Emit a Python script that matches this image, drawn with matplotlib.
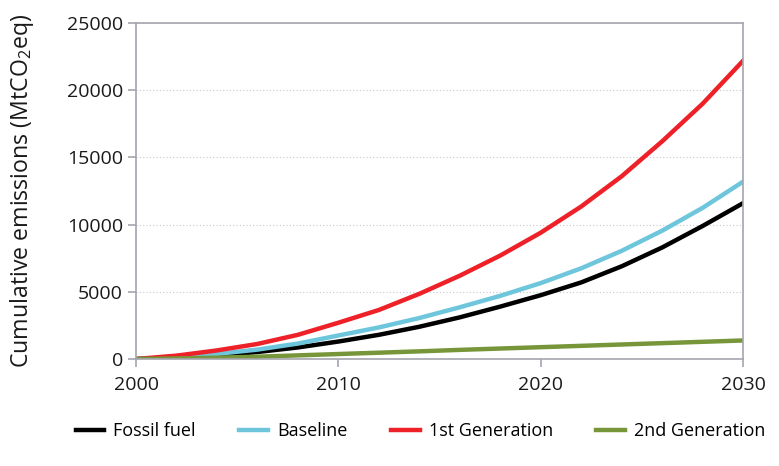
import matplotlib
matplotlib.use("Agg")
import matplotlib.pyplot as plt

plt.rcParams.update({
    "font.family": ["Open Sans", "DejaVu Sans"],
    "font.size": 14,
    "mathtext.default": "regular",
})

years = [2000, 2002, 2004, 2006, 2008, 2010, 2012, 2014, 2016, 2018,
         2020, 2022, 2024, 2026, 2028, 2030]
fossil_fuel = [0, 60, 260, 520, 860, 1300, 1800, 2400, 3100, 3900,
               4750, 5700, 6900, 8300, 9900, 11600]
baseline = [0, 130, 380, 700, 1150, 1750, 2350, 3050, 3850, 4700,
            5650, 6750, 8050, 9550, 11250, 13200]
first_gen = [0, 250, 640, 1120, 1800, 2700, 3650, 4850, 6200, 7700,
             9400, 11350, 13600, 16200, 19000, 22200]
second_gen = [0, 40, 100, 170, 270, 370, 470, 570, 680, 780,
              880, 980, 1080, 1180, 1280, 1380]

series = [
    ("Fossil fuel", fossil_fuel, "#000000"),
    ("Baseline", baseline, "#6ec6dc"),
    ("1st Generation", first_gen, "#ee2028"),
    ("2nd Generation", second_gen, "#77963a"),
]

fig = plt.figure(figsize=(7.79, 4.66), dpi=100)
ax = fig.add_axes([0.1746, 0.2296, 0.7794, 0.7210])

for name, vals, col in series:
    ax.plot(years, vals, color=col, lw=3.2, label=name, solid_joinstyle="round")

ax.set_xlim(2000, 2030)
ax.set_ylim(0, 25000)
ax.set_xticks([2000, 2010, 2020, 2030])
ax.set_yticks([0, 5000, 10000, 15000, 20000, 25000])
ax.yaxis.grid(True, linestyle=(0, (1, 2)), color="#c8c8c8", lw=0.8)
ax.set_axisbelow(True)
for sp in ax.spines.values():
    sp.set_color("#a4a6ae")
    sp.set_linewidth(1.2)
ax.tick_params(axis="both", colors="#a4a6ae", labelcolor="#1a1a1a",
               labelsize=14, length=6, width=1.2)
ax.tick_params(axis="x", pad=6)
ax.set_ylabel("Cumulative emissions (MtCO$_2$eq)", fontsize=16.7, color="#1a1a1a", labelpad=22)

fig.legend(loc="center", bbox_to_anchor=(0.54, 0.075), ncol=4, frameon=False,
           handlelength=1.6, columnspacing=2.4, handletextpad=0.5, fontsize=13)

fig.savefig("out.png", dpi=100)
